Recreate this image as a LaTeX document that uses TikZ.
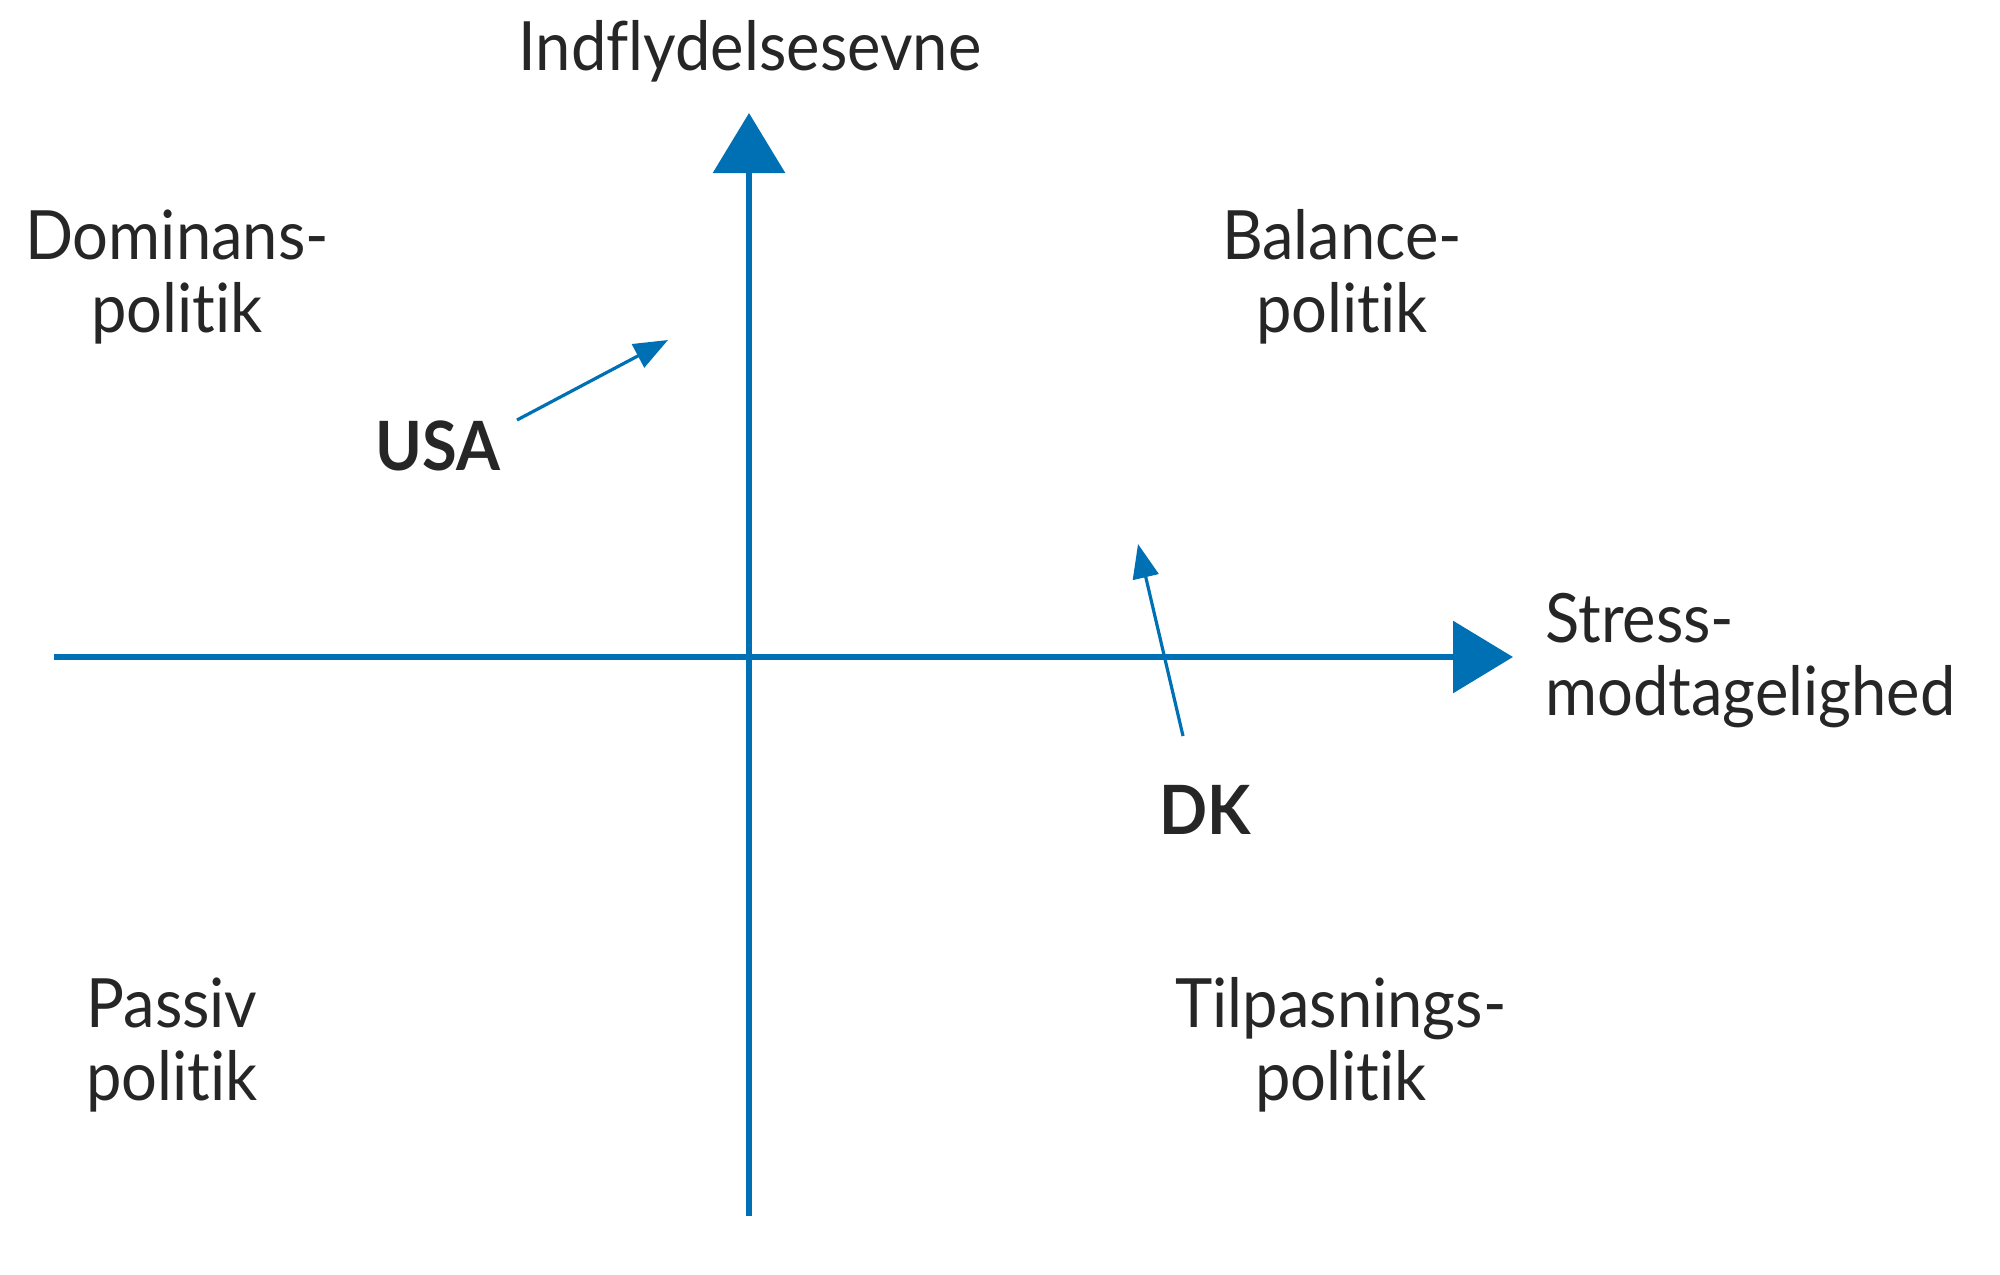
\documentclass[tikz,border=0pt]{standalone}
\usepackage{fontspec}
\setmainfont[Ligatures=NoCommon,FakeStretch=0.93]{Lato}
\usetikzlibrary{arrows.meta}
\definecolor{axisblue}{RGB}{0,112,180}
\tikzset{
  lbl/.style={font=\fontsize{34}{36.5}\selectfont, text=black!85, align=center, inner sep=0pt},
  country/.style={font=\fontsize{34}{36.5}\selectfont\bfseries, text=black!85, inner sep=0pt},
  axisline/.style={draw=axisblue, line width=3.2pt, -{Triangle[length=30pt,width=35.5pt]}},
  moveline/.style={draw=axisblue, line width=1.6pt, -{Triangle[length=17pt,width=13pt]}}
}
\begin{document}
\begin{tikzpicture}[x=0.5pt,y=-0.5pt]
\useasboundingbox (0,0) rectangle (2000,1274);
% axes
\coordinate (vb) at (749,1216);
\coordinate (vt) at (749,113);
\coordinate (hl) at (54,657);
\coordinate (hr) at (1513,657);
\draw[axisline] (vb) -- (vt);
\draw[axisline] (hl) -- (hr);
% labels
\node[lbl] (yl) at (750,51) {Indflydelsesevne};
\node[lbl,anchor=west,align=left] (xl) at (1545,661) {Stress-\\modtagelighed};
\node[lbl] (q1) at (177,277) {Dominans-\\politik};
\node[lbl] (q2) at (1342,277) {Balance-\\politik};
\node[lbl] (q3) at (172,1045) {Passiv\\politik};
\node[lbl] (q4) at (1341,1045) {Tilpasnings-\\politik};
% countries
\node[country] (usa) at (438,446) {USA};
\node[country] (dk) at (1205,810) {DK};
\coordinate (usa0) at (517,420);
\coordinate (usa1) at (668,340);
\coordinate (dk0) at (1183,736);
\coordinate (dk1) at (1138,544);
\draw[moveline] (usa0) -- (usa1);
\draw[moveline] (dk0) -- (dk1);
\end{tikzpicture}
\end{document}
